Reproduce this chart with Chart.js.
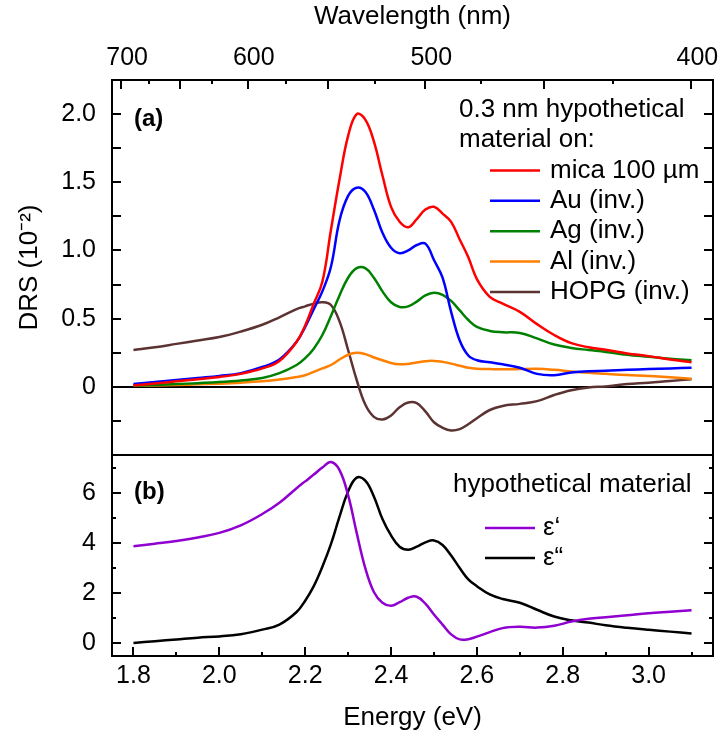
<!DOCTYPE html>
<html>
<head>
<meta charset="utf-8">
<script src="https://cdn.jsdelivr.net/npm/chart.js@4.4.1/dist/chart.umd.min.js"></script>
<style>
  html, body { margin: 0; padding: 0; background: #fff; }
  #wrap { position: relative; width: 720px; height: 736px; }
  #drs { position: absolute; left: 0; top: 0; }
  #eps { position: absolute; left: 0; top: 453px; }
</style>
</head>
<body>
<div id="wrap">
  <canvas id="drs" width="720" height="457"></canvas>
  <canvas id="eps" width="720" height="283"></canvas>
</div>
<script>
const FONT = '"Liberation Sans", Arial, sans-serif';
Chart.defaults.font.family = FONT;
Chart.defaults.color = '#000';

const HC = 1239.84; // eV*nm
const E_MIN = 1.75, E_MAX = 3.15;

// photon energy (eV), shared by every series
const ENERGY = [1.80, 1.85, 1.90, 1.95, 2.00, 2.05, 2.10, 2.14, 2.18,
  2.20, 2.22, 2.24, 2.26, 2.28, 2.30, 2.32, 2.34, 2.36, 2.38, 2.40,
  2.42, 2.44, 2.46, 2.48, 2.50, 2.52, 2.54, 2.56, 2.58, 2.60,
  2.63, 2.66, 2.70, 2.74, 2.78, 2.82, 2.86, 2.90, 2.95, 3.00, 3.05, 3.10];

// (a) DRS in units of 1e-2
const DRS_MICA = [0.01, 0.025, 0.04, 0.055, 0.072, 0.095, 0.135, 0.19, 0.33,
  0.45, 0.61, 0.77, 1.15, 1.52, 1.84, 2.00, 1.96, 1.80, 1.55, 1.32,
  1.21, 1.17, 1.23, 1.30, 1.32, 1.27, 1.21, 1.08, 0.95, 0.79,
  0.66, 0.61, 0.55, 0.46, 0.38, 0.32, 0.29, 0.272, 0.245, 0.225, 0.20, 0.18];
const DRS_AU = [0.02, 0.035, 0.05, 0.065, 0.08, 0.10, 0.145, 0.20, 0.33,
  0.44, 0.57, 0.70, 0.88, 1.22, 1.40, 1.46, 1.43, 1.30, 1.13, 1.02,
  0.98, 1.00, 1.04, 1.05, 0.93, 0.80, 0.55, 0.34, 0.23, 0.195,
  0.18, 0.165, 0.14, 0.095, 0.085, 0.105, 0.115, 0.118, 0.125, 0.13, 0.135, 0.14];
const DRS_AG = [0.008, 0.013, 0.02, 0.027, 0.035, 0.047, 0.065, 0.10, 0.16,
  0.21, 0.28, 0.38, 0.52, 0.67, 0.80, 0.87, 0.87, 0.80, 0.70, 0.62,
  0.585, 0.59, 0.625, 0.67, 0.69, 0.675, 0.63, 0.56, 0.49, 0.44,
  0.41, 0.40, 0.395, 0.355, 0.31, 0.285, 0.27, 0.256, 0.235, 0.22, 0.205, 0.195];
const DRS_AL = [0.007, 0.01, 0.014, 0.018, 0.023, 0.03, 0.04, 0.053, 0.072,
  0.085, 0.11, 0.135, 0.16, 0.20, 0.235, 0.25, 0.24, 0.215, 0.195, 0.175,
  0.165, 0.168, 0.178, 0.188, 0.19, 0.183, 0.17, 0.155, 0.14, 0.133,
  0.13, 0.128, 0.13, 0.132, 0.125, 0.113, 0.103, 0.095, 0.086, 0.08, 0.07, 0.06];
const DRS_HOPG = [0.27, 0.29, 0.315, 0.34, 0.365, 0.405, 0.455, 0.51, 0.57,
  0.59, 0.61, 0.62, 0.60, 0.48, 0.27, 0.05, -0.13, -0.22, -0.24, -0.21,
  -0.15, -0.115, -0.12, -0.18, -0.26, -0.30, -0.32, -0.31, -0.275, -0.23,
  -0.17, -0.14, -0.125, -0.105, -0.06, -0.025, -0.005, 0.003, 0.02, 0.03, 0.043, 0.055];

// (b) dielectric function of the layer
const EPS_REAL = [3.87, 3.97, 4.08, 4.22, 4.40, 4.70, 5.15, 5.60, 6.18,
  6.45, 6.72, 7.00, 7.22, 6.90, 5.90, 4.40, 3.00, 2.05, 1.62, 1.50,
  1.64, 1.82, 1.86, 1.58, 1.15, 0.75, 0.36, 0.16, 0.17, 0.27,
  0.45, 0.61, 0.66, 0.63, 0.70, 0.87, 0.98, 1.04, 1.12, 1.20, 1.26, 1.32];
const EPS_IMAG = [0.02, 0.09, 0.16, 0.23, 0.28, 0.37, 0.55, 0.75, 1.25,
  1.70, 2.28, 3.05, 3.95, 5.05, 6.05, 6.60, 6.48, 5.85, 4.95, 4.30,
  3.85, 3.73, 3.85, 4.02, 4.10, 3.92, 3.50, 3.00, 2.55, 2.28,
  1.95, 1.77, 1.62, 1.34, 1.07, 0.92, 0.83, 0.72, 0.62, 0.54, 0.47, 0.40];

// axis ticks
const WAVELENGTH_TICKS = [700, 675, 650, 625, 600, 575, 550, 525, 500, 475, 450, 425, 400];
const ENERGY_TICKS = [1.8, 1.9, 2.0, 2.1, 2.2, 2.3, 2.4, 2.5, 2.6, 2.7, 2.8, 2.9, 3.0, 3.1];
const DRS_TICKS = [-0.25, 0, 0.25, 0.5, 0.75, 1.0, 1.25, 1.5, 1.75, 2.0];
const EPS_TICKS = [0, 1, 2, 3, 4, 5, 6, 7];

const isMultiple = (v, step) => Math.abs(v / step - Math.round(v / step)) < 1e-6;

function series(label, values, color) {
  return {
    label,
    data: ENERGY.map((e, i) => ({ x: e, y: values[i] })),
    borderColor: color,
    backgroundColor: color,
    borderWidth: 2.5,
    pointRadius: 0,
    tension: 0.4,
    fill: false,
  };
}

// pin axis boxes so both panels share the same plot edges
function fixBox(w, h) {
  return s => {
    if (w != null) s.width = w;
    if (h != null) s.height = h;
    s.paddingLeft = s.paddingRight = s.paddingTop = s.paddingBottom = 0;
  };
}
const useTicks = values => s => { s.ticks = values.map(v => ({ value: v })); };

// frame around the plot area plus inward tick marks
function frameTicks(marks) {
  return {
    id: 'frameTicks',
    afterDatasetsDraw(chart) {
      const { ctx, chartArea: a } = chart;
      ctx.save();
      ctx.strokeStyle = '#000';
      ctx.lineWidth = 2;
      ctx.beginPath();
      marks.forEach(m => {
        const s = chart.scales[m.axis];
        s.ticks.forEach(t => {
          const p = Math.round(s.getPixelForValue(t.value));
          const len = m.major(t.value) ? m.long : m.short;
          m.sides.forEach(side => {
            if (side === 'top') { ctx.moveTo(p, a.top); ctx.lineTo(p, a.top + len); }
            if (side === 'bottom') { ctx.moveTo(p, a.bottom); ctx.lineTo(p, a.bottom - len); }
            if (side === 'left') { ctx.moveTo(a.left, p); ctx.lineTo(a.left + len, p); }
            if (side === 'right') { ctx.moveTo(a.right, p); ctx.lineTo(a.right - len, p); }
          });
        });
      });
      ctx.stroke();
      ctx.strokeRect(a.left, a.top, a.right - a.left, a.bottom - a.top);
      ctx.restore();
    }
  };
}

// panel label, legend header and legend keys
function panelNotes(notes) {
  return {
    id: 'panelNotes',
    afterDraw(chart) {
      const ctx = chart.ctx;
      ctx.save();
      ctx.textBaseline = 'middle';
      ctx.textAlign = 'left';
      ctx.fillStyle = '#000';
      notes.text.forEach(n => {
        ctx.font = n.font || `26px ${FONT}`;
        ctx.fillText(n.t, n.x, n.y);
      });
      const k = notes.keys;
      ctx.font = `26px ${FONT}`;
      chart.data.datasets.forEach((ds, i) => {
        const y = k.y0 + i * k.dy;
        ctx.strokeStyle = ds.borderColor;
        ctx.lineWidth = 2.5;
        ctx.beginPath();
        ctx.moveTo(k.x0, y);
        ctx.lineTo(k.x1, y);
        ctx.stroke();
        ctx.fillText(ds.label, k.tx, y);
      });
      ctx.restore();
    }
  };
}

const noGrid = { display: false, drawTicks: false };

new Chart(document.getElementById('drs'), {
  type: 'line',
  data: {
    datasets: [
      series('mica 100 µm', DRS_MICA, '#ff0000'),
      series('Au (inv.)', DRS_AU, '#0000ff'),
      series('Ag (inv.)', DRS_AG, '#008000'),
      series('Al (inv.)', DRS_AL, '#ff7f00'),
      series('HOPG (inv.)', DRS_HOPG, '#5c3333'),
    ],
  },
  options: {
    responsive: false,
    animation: false,
    layout: { padding: { top: 0, right: 7, bottom: 2, left: 0 } },
    plugins: { legend: { display: false }, tooltip: { enabled: false } },
    scales: {
      x: { type: 'linear', min: E_MIN, max: E_MAX, display: false },
      xTop: {
        type: 'linear',
        position: 'top',
        min: E_MIN,
        max: E_MAX,
        afterBuildTicks: useTicks(WAVELENGTH_TICKS.map(nm => HC / nm)),
        afterFit: fixBox(null, 80),
        grid: noGrid,
        border: { display: false },
        ticks: {
          autoSkip: false,
          maxRotation: 0,
          padding: 7,
          labelOffset: 6,
          font: { size: 25 },
          callback: v => {
            const nm = Math.round(HC / v);
            return nm % 100 === 0 ? String(nm) : '';
          },
        },
        title: { display: true, text: 'Wavelength (nm)', font: { size: 26 }, padding: { top: 1, bottom: 0 } },
      },
      y: {
        min: -0.5,
        max: 2.25,
        afterBuildTicks: useTicks(DRS_TICKS),
        afterFit: fixBox(112, null),
        grid: {
          drawTicks: false,
          lineWidth: 2,
          color: c => (c.tick && c.tick.value === 0 ? '#000' : 'rgba(0,0,0,0)'),
        },
        border: { display: false },
        ticks: {
          autoSkip: false,
          padding: 16,
          font: { size: 25 },
          callback: v => (v >= 0 && isMultiple(v, 0.5) ? (v === 0 ? '0' : v.toFixed(1)) : ''),
        },
        title: { display: true, text: 'DRS (10⁻²)', font: { size: 26 }, padding: { top: 14, bottom: 0 } },
      },
    },
  },
  plugins: [
    frameTicks([
      { axis: 'xTop', sides: ['top'], long: 9, short: 4, major: v => Math.round(HC / v) % 50 === 0 },
      { axis: 'y', sides: ['left', 'right'], long: 9, short: 9, major: () => true },
    ]),
    panelNotes({
      text: [
        { t: '(a)', x: 134, y: 119, font: `bold 24px ${FONT}` },
        { t: '0.3 nm hypothetical', x: 459, y: 110 },
        { t: 'material on:', x: 459, y: 140 },
      ],
      keys: { x0: 490, x1: 540, tx: 550, y0: 170.4, dy: 30.4 },
    }),
  ],
});

new Chart(document.getElementById('eps'), {
  type: 'line',
  data: {
    datasets: [
      series('ε‘', EPS_REAL, '#9000d0'),
      series('ε“', EPS_IMAG, '#000000'),
    ],
  },
  options: {
    responsive: false,
    animation: false,
    layout: { padding: { top: 2, right: 7, bottom: 0, left: 0 } },
    plugins: { legend: { display: false }, tooltip: { enabled: false } },
    scales: {
      x: {
        type: 'linear',
        min: E_MIN,
        max: E_MAX,
        afterBuildTicks: useTicks(ENERGY_TICKS),
        afterFit: fixBox(null, 80),
        grid: noGrid,
        border: { display: false },
        ticks: {
          autoSkip: false,
          maxRotation: 0,
          padding: 5,
          font: { size: 25 },
          callback: v => (isMultiple(v, 0.2) ? v.toFixed(1) : ''),
        },
        title: { display: true, text: 'Energy (eV)', font: { size: 26 }, padding: { top: 0, bottom: 3 } },
      },
      y: {
        min: -0.5,
        max: 7.5,
        afterBuildTicks: useTicks(EPS_TICKS),
        afterFit: fixBox(112, null),
        grid: noGrid,
        border: { display: false },
        ticks: {
          autoSkip: false,
          padding: 16,
          font: { size: 25 },
          callback: v => (v % 2 === 0 ? String(v) : ''),
        },
      },
    },
  },
  plugins: [
    frameTicks([
      { axis: 'x', sides: ['bottom'], long: 9, short: 4, major: v => isMultiple(v, 0.2) },
      { axis: 'y', sides: ['left', 'right'], long: 9, short: 4, major: v => v % 2 === 0 },
    ]),
    panelNotes({
      text: [
        { t: '(b)', x: 134, y: 39, font: `bold 24px ${FONT}` },
        { t: 'hypothetical material', x: 453, y: 32 },
      ],
      keys: { x0: 485, x1: 535, tx: 543, y0: 75, dy: 30 },
    }),
  ],
});
</script>
</body>
</html>
